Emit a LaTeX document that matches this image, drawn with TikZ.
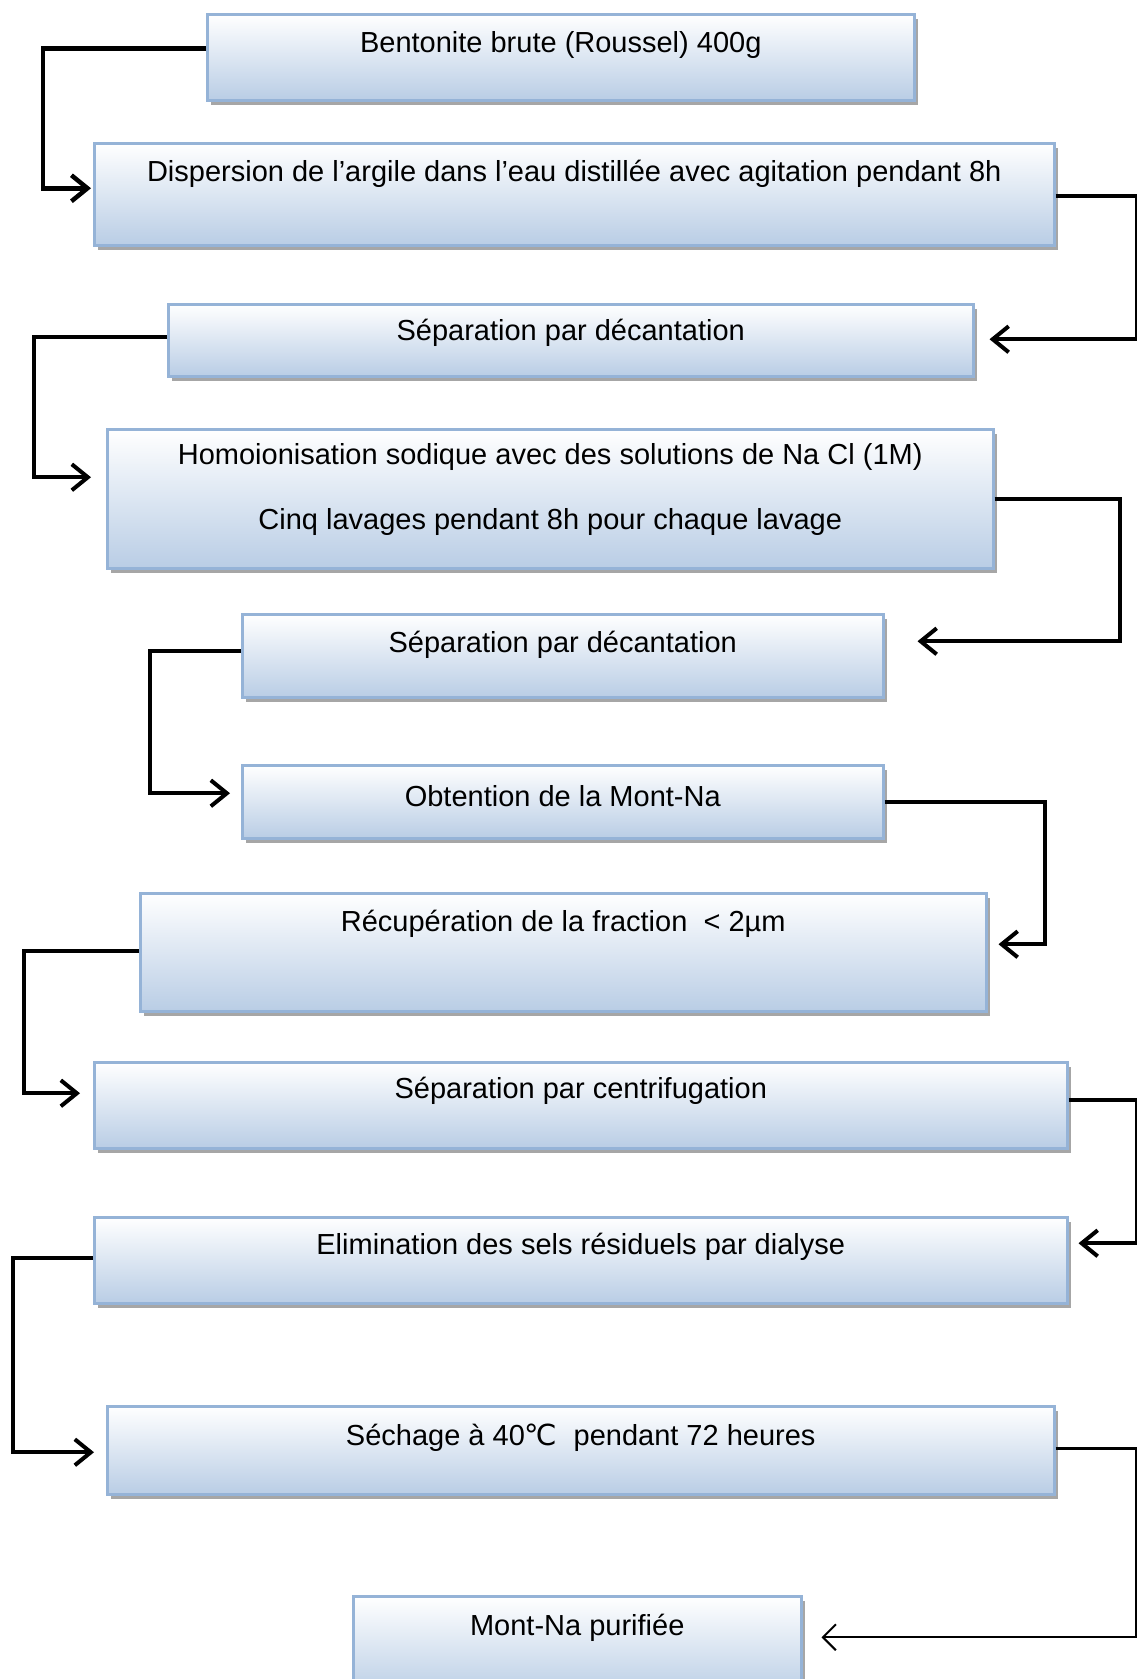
\documentclass[tikz,border=0pt]{standalone}
\usepackage{fontspec}
\setmainfont{Liberation Sans}
\newfontfamily\symbfont{DejaVu Sans}
\usetikzlibrary{arrows.meta,shadows}
\definecolor{boxedge}{RGB}{149,179,215}
\definecolor{boxblue}{RGB}{185,205,229}
\tikzset{
	stepbox/.style={draw=boxedge, line width=2.5pt, top color=white, bottom color=boxblue, middle color=boxblue!50!white, anchor=north west, inner sep=0pt, drop shadow={shadow xshift=4pt, shadow yshift=-5pt, fill=gray!70, opacity=1}},
	steptext/.style={font=\fontsize{29}{35}\selectfont, inner sep=0pt},
	flow/.style={line width=4pt, -{Straight Barb[length=16pt,width=26pt]}},
	thinflow/.style={line width=2pt, -{Straight Barb[length=13pt,width=26pt]}},
}

\begin{document}
\begin{tikzpicture}[x=1pt,y=-1pt]
		\useasboundingbox (0,0) rectangle (1137,1679);
		
		% the steps, top to bottom
		\node[stepbox, minimum width=707pt, minimum height=86pt] (b1) at (206,13) {};
		\node[stepbox, minimum width=960pt, minimum height=102pt] (b2) at (93,142) {};
		\node[stepbox, minimum width=805pt, minimum height=72pt] (b3) at (167,303) {};
		\node[stepbox, minimum width=886pt, minimum height=139pt] (b4) at (106,428) {};
		\node[stepbox, minimum width=641pt, minimum height=83pt] (b5) at (241,613) {};
		\node[stepbox, minimum width=641pt, minimum height=73pt] (b6) at (241,764) {};
		\node[stepbox, minimum width=846pt, minimum height=118pt] (b7) at (139,892) {};
		\node[stepbox, minimum width=973pt, minimum height=86pt] (b8) at (93,1061) {};
		\node[stepbox, minimum width=973pt, minimum height=86pt] (b9) at (93,1216) {};
		\node[stepbox, minimum width=947pt, minimum height=88pt] (b10) at (106,1405) {};
		\node[stepbox, minimum width=448pt, minimum height=100pt] (b11) at (352,1595) {};
		
		% texts sit in the upper part of each box
		\node[steptext] (t1) at ([yshift=-32pt]b1.north) {Bentonite brute (Roussel) 400g};
		\node[steptext] (t2) at ([yshift=-32pt]b2.north) {Dispersion de l’argile dans l’eau distillée avec agitation pendant 8h};
		\node[steptext] (t3) at ([yshift=-30pt]b3.north) {Séparation par décantation};
		\node[steptext, align=center, font=\fontsize{29}{65}\selectfont] (t4) at ([yshift=-61pt]b4.north) {Homoionisation sodique avec des solutions de Na Cl (1M)\\Cinq lavages pendant 8h pour chaque lavage};
		\node[steptext] (t5) at ([yshift=-32pt]b5.north) {Séparation par décantation};
		\node[steptext] (t6) at ([yshift=-32pt]b6.north) {Obtention de la Mont-Na};
		\node[steptext] (t7) at ([yshift=-32pt]b7.north) {Récupération de la fraction\ \ < 2µm};
		\node[steptext] (t8) at ([yshift=-30pt]b8.north) {Séparation par centrifugation};
		\node[steptext] (t9) at ([yshift=-31pt]b9.north) {Elimination des sels résiduels par dialyse};
		\node[steptext] (t10) at ([yshift=-33pt]b10.north) {Séchage à 40{\symbfont ℃}\ \ pendant 72 heures};
		\node[steptext] (t11) at ([yshift=-33pt]b11.north) {Mont-Na purifiée};
		
		% elbow connectors, alternating left and right
		\draw[flow, line width=4.5pt] ([yshift=9pt]b1.west) -- ++(-163,0) |- ([xshift=-2pt,yshift=6pt]b2.west);
		\draw[flow] ([yshift=-2pt]b2.east) -- ++(81,0) |- ([xshift=15pt,yshift=1pt]b3.east);
		\draw[flow] ([yshift=3pt]b3.west) -- ++(-133,0) |- ([xshift=-15pt,yshift=21.5pt]b4.west);
		\draw[flow] (b4.east) -- ++(125,0) |- ([xshift=33pt,yshift=14.5pt]b5.east);
		\draw[flow] ([yshift=4.5pt]b5.west) -- ++(-91,0) |- ([xshift=-11pt,yshift=8.5pt]b6.west);
		\draw[flow] (b6.east) -- ++(160,0) |- ([xshift=11pt,yshift=8pt]b7.east);
		\draw[flow] ([yshift=1pt]b7.west) -- ++(-115,0) |- ([xshift=-13pt,yshift=12pt]b8.west);
		\draw[flow] ([yshift=5pt]b8.east) -- ++(68,0) |- ([xshift=10pt,yshift=17pt]b9.east);
		\draw[flow] ([yshift=2pt]b9.west) -- ++(-80,0) |- ([xshift=-12pt,yshift=-2pt]b10.west);
		
		% last one: thick elbow, thin arrow into the result
		\coordinate (e11) at ([xshift=19pt,yshift=9pt]b11.east);
		\draw[line width=3.5pt] ([yshift=2pt]b10.east) -- ++(81,0) coordinate (k10) -- (k10 |- e11) coordinate (k11);
		\draw[thinflow] (k11) -- (e11);
	\end{tikzpicture}
\end{document}
